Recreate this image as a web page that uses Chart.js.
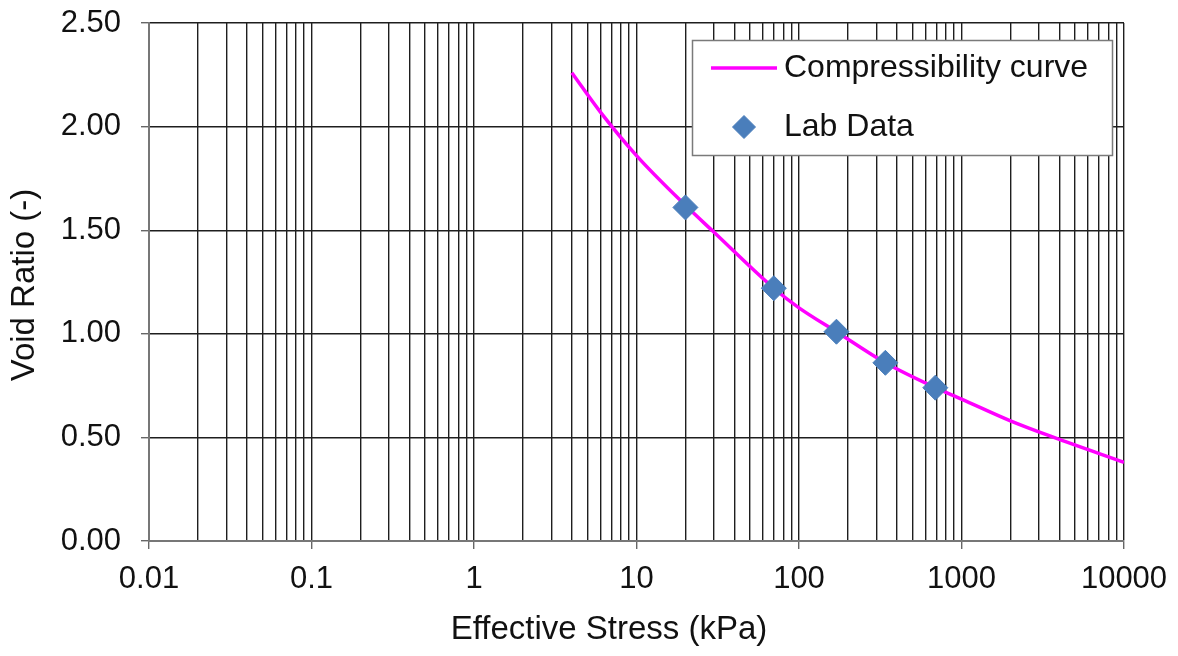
<!DOCTYPE html>
<html>
<head>
<meta charset="utf-8">
<script src="https://cdn.jsdelivr.net/npm/chart.js@4/dist/chart.umd.min.js"></script>
<style>
  html, body { margin: 0; padding: 0; background: #fff; }
  #wrap { width: 1178px; height: 656px; }
</style>
</head>
<body>
<div id="wrap"><canvas id="voidRatio"></canvas></div>
<script>
// compressibility curve, (stress, void ratio)
const curveStress = [4, 6, 10, 20, 30, 70, 100, 170, 340, 690, 1000, 2000, 3700, 10000];
const curveVoid = [2.26, 2.07, 1.86, 1.62, 1.49, 1.22, 1.125, 1.01, 0.86, 0.74, 0.685, 0.58, 0.5, 0.38];

// oedometer test points
const labStress = [20, 70, 170, 340, 690];
const labVoid = [1.61, 1.22, 1.01, 0.86, 0.74];

const stressDecades = [0.01, 0.1, 1, 10, 100, 1000, 10000];
const voidTicks = [0, 0.5, 1, 1.5, 2, 2.5];

const FONT = "'Liberation Sans', Arial, sans-serif";
const TEXT = '#111';
const GRID = '#1e1e1e';

// 1..9 x every decade for the log grid
const stressGrid = [];
stressDecades.forEach((d, i) => {
    if (i === stressDecades.length - 1) {
        stressGrid.push(d);
        return;
    }
    for (let m = 1; m < 10; m++) stressGrid.push(m === 1 ? d : d * m);
});
const isDecade = (v) => stressDecades.includes(v);

// legend box drawn inside the plot, top right
const boxLegend = {
    id: 'boxLegend',
    afterDraw(chart) {
        const ctx = chart.ctx;
        const [curve, lab] = chart.data.datasets;
        ctx.save();
        ctx.fillStyle = '#fff';
        ctx.fillRect(692, 40, 420, 115);
        ctx.strokeStyle = '#7a7a7a';
        ctx.lineWidth = 1.5;
        ctx.strokeRect(692.5, 40.5, 420, 115);

        ctx.strokeStyle = curve.borderColor;
        ctx.lineWidth = curve.borderWidth;
        ctx.beginPath();
        ctx.moveTo(711, 68);
        ctx.lineTo(777, 68);
        ctx.stroke();

        ctx.fillStyle = lab.backgroundColor;
        ctx.strokeStyle = lab.borderColor;
        ctx.lineWidth = 1;
        Chart.helpers.drawPoint(ctx, {
            pointStyle: lab.pointStyle,
            radius: 11.5,
            borderWidth: 1
        }, 744, 127);

        ctx.fillStyle = TEXT;
        ctx.font = '32px ' + FONT;
        ctx.textBaseline = 'middle';
        ctx.textAlign = 'left';
        ctx.fillText(curve.label, 784, 68);
        ctx.fillText(lab.label, 784, 127);
        ctx.restore();
    }
};

// axis titles
const axisTitles = {
    id: 'axisTitles',
    afterDraw(chart) {
        const ctx = chart.ctx;
        ctx.save();
        ctx.fillStyle = TEXT;
        ctx.font = '33px ' + FONT;
        ctx.textAlign = 'center';
        ctx.textBaseline = 'middle';
        ctx.fillText('Effective Stress (kPa)', 609, 630);
        ctx.translate(25, 285);
        ctx.rotate(-Math.PI / 2);
        ctx.fillText('Void Ratio (-)', 0, 0);
        ctx.restore();
    }
};

new Chart(document.getElementById('voidRatio'), {
    type: 'scatter',
    data: {
        datasets: [
            {
                label: 'Compressibility curve',
                data: curveStress.map((s, i) => ({ x: s, y: curveVoid[i] })),
                showLine: true,
                borderColor: '#ff00ff',
                borderWidth: 3.5,
                pointRadius: 0,
                cubicInterpolationMode: 'monotone',
                order: 2
            },
            {
                label: 'Lab Data',
                data: labStress.map((s, i) => ({ x: s, y: labVoid[i] })),
                pointStyle: 'rectRot',
                pointRadius: 12.5,
                backgroundColor: '#4a7ebb',
                borderColor: '#4a7ebb',
                borderWidth: 1,
                order: 1
            }
        ]
    },
    options: {
        responsive: true,
        maintainAspectRatio: false,
        animation: false,
        layout: { padding: { top: 23, right: 54, bottom: 0, left: 0 } },
        plugins: {
            legend: { display: false },
            tooltip: { enabled: false }
        },
        scales: {
            x: {
                type: 'logarithmic',
                min: 0.01,
                max: 10000,
                afterBuildTicks: (scale) => {
                    scale.ticks = stressGrid.map((v) => ({ value: v, major: isDecade(v) }));
                },
                afterFit: (scale) => {
                    scale.height = 115;
                    scale.paddingLeft = 0;
                    scale.paddingRight = 0;
                },
                ticks: {
                    autoSkip: false,
                    maxRotation: 0,
                    padding: 12,
                    color: TEXT,
                    font: { family: FONT, size: 31 },
                    callback: (v) => (isDecade(v) ? String(v) : '')
                },
                grid: {
                    color: GRID,
                    lineWidth: 1.4,
                    tickLength: 8,
                    tickColor: (ctx) => (ctx.tick && isDecade(ctx.tick.value) ? '#666' : 'rgba(0,0,0,0)')
                },
                border: { color: '#777', width: 2 },
                title: { display: false }
            },
            y: {
                min: 0,
                max: 2.5,
                afterBuildTicks: (scale) => {
                    scale.ticks = voidTicks.map((v) => ({ value: v }));
                },
                afterFit: (scale) => {
                    scale.width = 149;
                    scale.paddingTop = 0;
                    scale.paddingBottom = 0;
                },
                ticks: {
                    padding: 20,
                    color: TEXT,
                    font: { family: FONT, size: 31 },
                    callback: (v) => v.toFixed(2)
                },
                grid: {
                    color: GRID,
                    lineWidth: 1.4,
                    tickLength: 8,
                    tickColor: '#666'
                },
                border: { color: '#777', width: 2 },
                title: { display: false }
            }
        }
    },
    plugins: [axisTitles, boxLegend]
});
</script>
</body>
</html>
